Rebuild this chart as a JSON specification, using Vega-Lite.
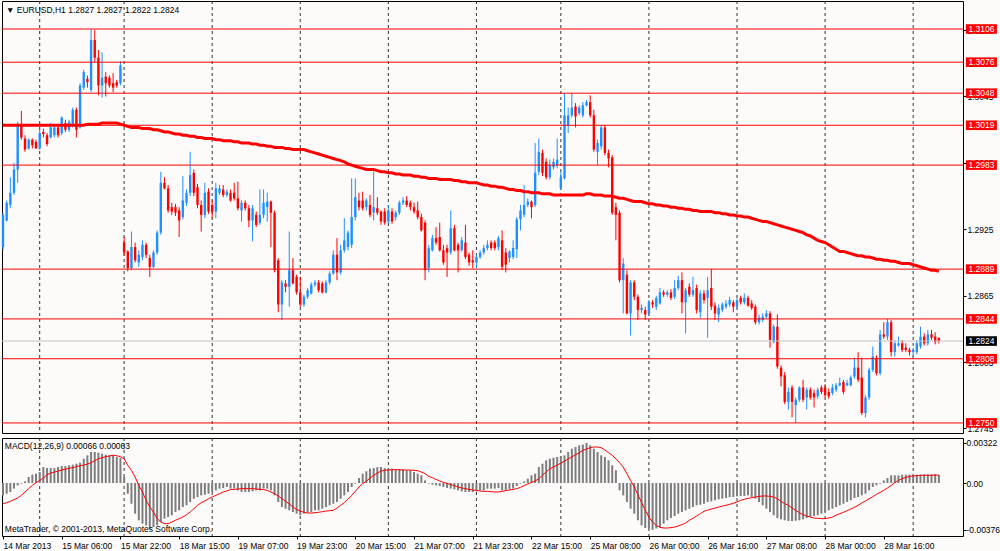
{
  "$schema": "https://vega.github.io/schema/vega-lite/v6.json",
  "background": "#fdfafa",
  "autosize": {"type": "none", "contains": "content"},
  "padding": {"left": 2, "top": 1, "right": 998, "bottom": 550},
  "spacing": 3,
  "config": {
    "view": {"stroke": "#000000", "strokeWidth": 1},
    "scale": {"continuousPadding": 0},
    "axis": {"labelFont": "Liberation Sans", "labelFontSize": 8.5, "labelColor": "#000000", "tickColor": "#000000", "domainColor": "#000000", "grid": false, "title": null},
    "text": {"font": "Liberation Sans", "fontSize": 8.5}
  },
  "datasets": {
    "seps": [{"i": 10}, {"i": 33}, {"i": 57}, {"i": 81}, {"i": 105}, {"i": 129}, {"i": 152}, {"i": 176}, {"i": 200}, {"i": 224}, {"i": 248}],
    "levels": [
      {"price": 1.3106, "kind": "level"}, {"price": 1.3076, "kind": "level"}, {"price": 1.3048, "kind": "level"},
      {"price": 1.3019, "kind": "level"}, {"price": 1.2983, "kind": "level"}, {"price": 1.2889, "kind": "level"},
      {"price": 1.2844, "kind": "level"}, {"price": 1.2808, "kind": "level"}, {"price": 1.2750, "kind": "level"},
      {"price": 1.2824, "kind": "bid"}
    ],
    "bars": [
      {"i":0,"open":1.2909,"high":1.2940,"low":1.2906,"close":1.2938,"ma":1.3019,"macd":-0.00099,"signal":-0.00166},
      {"i":1,"open":1.2933,"high":1.2951,"low":1.2932,"close":1.2949,"ma":1.3019,"macd":-0.00086,"signal":-0.00158},
      {"i":2,"open":1.2947,"high":1.2972,"low":1.2944,"close":1.2958,"ma":1.3019,"macd":-0.00072,"signal":-0.00147},
      {"i":3,"open":1.2958,"high":1.2985,"low":1.2956,"close":1.2979,"ma":1.3019,"macd":-0.00045,"signal":-0.00134},
      {"i":4,"open":1.2979,"high":1.3022,"low":1.2967,"close":1.3019,"ma":1.3019,"macd":-0.00019,"signal":-0.00120},
      {"i":5,"open":1.3019,"high":1.3032,"low":1.3006,"close":1.3008,"ma":1.3019,"macd":-0.00005,"signal":-0.00099},
      {"i":6,"open":1.3007,"high":1.3010,"low":1.2995,"close":1.2997,"ma":1.3019,"macd":0.00013,"signal":-0.00072},
      {"i":7,"open":1.2998,"high":1.3007,"low":1.2997,"close":1.3006,"ma":1.3019,"macd":0.00048,"signal":-0.00045},
      {"i":8,"open":1.3006,"high":1.3007,"low":1.2998,"close":1.3001,"ma":1.3019,"macd":0.00067,"signal":-0.00019},
      {"i":9,"open":1.3004,"high":1.3006,"low":1.2998,"close":1.2998,"ma":1.3019,"macd":0.00075,"signal":0.00003},
      {"i":10,"open":1.2998,"high":1.3015,"low":1.2997,"close":1.3012,"ma":1.3019,"macd":0.00088,"signal":0.00021},
      {"i":11,"open":1.3013,"high":1.3016,"low":1.3008,"close":1.3011,"ma":1.3019,"macd":0.00128,"signal":0.00040},
      {"i":12,"open":1.3010,"high":1.3012,"low":1.3000,"close":1.3002,"ma":1.3019,"macd":0.00120,"signal":0.00067},
      {"i":13,"open":1.3008,"high":1.3021,"low":1.3007,"close":1.3017,"ma":1.3019,"macd":0.00120,"signal":0.00080},
      {"i":14,"open":1.3010,"high":1.3018,"low":1.3008,"close":1.3017,"ma":1.3019,"macd":0.00120,"signal":0.00088},
      {"i":15,"open":1.3017,"high":1.3018,"low":1.3008,"close":1.3010,"ma":1.3019,"macd":0.00128,"signal":0.00096},
      {"i":16,"open":1.3012,"high":1.3027,"low":1.3010,"close":1.3026,"ma":1.3019,"macd":0.00136,"signal":0.00104},
      {"i":17,"open":1.3021,"high":1.3024,"low":1.3013,"close":1.3015,"ma":1.3019,"macd":0.00136,"signal":0.00112},
      {"i":18,"open":1.3015,"high":1.3024,"low":1.3013,"close":1.3022,"ma":1.3019,"macd":0.00142,"signal":0.00118},
      {"i":19,"open":1.3019,"high":1.3035,"low":1.3017,"close":1.3033,"ma":1.3019,"macd":0.00147,"signal":0.00123},
      {"i":20,"open":1.3033,"high":1.3035,"low":1.3008,"close":1.3015,"ma":1.3019,"macd":0.00155,"signal":0.00131},
      {"i":21,"open":1.3017,"high":1.3057,"low":1.3016,"close":1.3055,"ma":1.3019,"macd":0.00163,"signal":0.00139},
      {"i":22,"open":1.3053,"high":1.3069,"low":1.3051,"close":1.3067,"ma":1.3019,"macd":0.00195,"signal":0.00144},
      {"i":23,"open":1.3061,"high":1.3064,"low":1.3053,"close":1.3058,"ma":1.3020,"macd":0.00222,"signal":0.00152},
      {"i":24,"open":1.3051,"high":1.3106,"low":1.3049,"close":1.3096,"ma":1.3020,"macd":0.00249,"signal":0.00163},
      {"i":25,"open":1.3096,"high":1.3105,"low":1.3076,"close":1.3080,"ma":1.3020,"macd":0.00249,"signal":0.00179},
      {"i":26,"open":1.3080,"high":1.3087,"low":1.3046,"close":1.3055,"ma":1.3020,"macd":0.00243,"signal":0.00195},
      {"i":27,"open":1.3055,"high":1.3085,"low":1.3044,"close":1.3062,"ma":1.3021,"macd":0.00235,"signal":0.00203},
      {"i":28,"open":1.3063,"high":1.3067,"low":1.3045,"close":1.3057,"ma":1.3021,"macd":0.00227,"signal":0.00211},
      {"i":29,"open":1.3062,"high":1.3064,"low":1.3053,"close":1.3055,"ma":1.3021,"macd":0.00222,"signal":0.00217},
      {"i":30,"open":1.3057,"high":1.3066,"low":1.3049,"close":1.3053,"ma":1.3021,"macd":0.00217,"signal":0.00222},
      {"i":31,"open":1.3058,"high":1.3060,"low":1.3053,"close":1.3055,"ma":1.3021,"macd":0.00209,"signal":0.00219},
      {"i":32,"open":1.3057,"high":1.3077,"low":1.3055,"close":1.3073,"ma":1.3020,"macd":0.00201,"signal":0.00211},
      {"i":33,"open":1.2913,"high":1.2918,"low":1.2901,"close":1.2904,"ma":1.3019,"macd":0.00048,"signal":0.00195},
      {"i":34,"open":1.2905,"high":1.2906,"low":1.2887,"close":1.2890,"ma":1.3018,"macd":-0.00086,"signal":0.00142},
      {"i":35,"open":1.2890,"high":1.2923,"low":1.2888,"close":1.2909,"ma":1.3017,"macd":-0.00166,"signal":0.00102},
      {"i":36,"open":1.2909,"high":1.2913,"low":1.2895,"close":1.2897,"ma":1.3017,"macd":-0.00246,"signal":0.00048},
      {"i":37,"open":1.2895,"high":1.2906,"low":1.2891,"close":1.2902,"ma":1.3017,"macd":-0.00299,"signal":-0.00019},
      {"i":38,"open":1.2900,"high":1.2915,"low":1.2897,"close":1.2911,"ma":1.3016,"macd":-0.00326,"signal":-0.00072},
      {"i":39,"open":1.2911,"high":1.2913,"low":1.2899,"close":1.2902,"ma":1.3016,"macd":-0.00340,"signal":-0.00139},
      {"i":40,"open":1.2899,"high":1.2902,"low":1.2882,"close":1.2891,"ma":1.3016,"macd":-0.00366,"signal":-0.00193},
      {"i":41,"open":1.2891,"high":1.2906,"low":1.2890,"close":1.2904,"ma":1.3015,"macd":-0.00353,"signal":-0.00233},
      {"i":42,"open":1.2904,"high":1.2924,"low":1.2902,"close":1.2922,"ma":1.3015,"macd":-0.00340,"signal":-0.00286},
      {"i":43,"open":1.2922,"high":1.2977,"low":1.2920,"close":1.2967,"ma":1.3014,"macd":-0.00313,"signal":-0.00313},
      {"i":44,"open":1.2967,"high":1.2972,"low":1.2961,"close":1.2962,"ma":1.3013,"macd":-0.00286,"signal":-0.00326},
      {"i":45,"open":1.2962,"high":1.2965,"low":1.2940,"close":1.2942,"ma":1.3013,"macd":-0.00273,"signal":-0.00326},
      {"i":46,"open":1.2945,"high":1.2949,"low":1.2938,"close":1.2941,"ma":1.3012,"macd":-0.00259,"signal":-0.00313},
      {"i":47,"open":1.2945,"high":1.2948,"low":1.2937,"close":1.2940,"ma":1.3011,"macd":-0.00233,"signal":-0.00299},
      {"i":48,"open":1.2942,"high":1.2945,"low":1.2918,"close":1.2933,"ma":1.3011,"macd":-0.00219,"signal":-0.00286},
      {"i":49,"open":1.2936,"high":1.2973,"low":1.2934,"close":1.2951,"ma":1.3010,"macd":-0.00193,"signal":-0.00273},
      {"i":50,"open":1.2949,"high":1.2961,"low":1.2946,"close":1.2958,"ma":1.3010,"macd":-0.00179,"signal":-0.00254},
      {"i":51,"open":1.2958,"high":1.2995,"low":1.2955,"close":1.2974,"ma":1.3009,"macd":-0.00152,"signal":-0.00233},
      {"i":52,"open":1.2976,"high":1.2979,"low":1.2955,"close":1.2958,"ma":1.3009,"macd":-0.00126,"signal":-0.00206},
      {"i":53,"open":1.2963,"high":1.2966,"low":1.2944,"close":1.2947,"ma":1.3008,"macd":-0.00112,"signal":-0.00179},
      {"i":54,"open":1.2947,"high":1.2951,"low":1.2923,"close":1.2938,"ma":1.3008,"macd":-0.00099,"signal":-0.00158},
      {"i":55,"open":1.2938,"high":1.2967,"low":1.2935,"close":1.2958,"ma":1.3007,"macd":-0.00094,"signal":-0.00144},
      {"i":56,"open":1.2959,"high":1.2962,"low":1.2939,"close":1.2941,"ma":1.3007,"macd":-0.00086,"signal":-0.00126},
      {"i":57,"open":1.2947,"high":1.2951,"low":1.2935,"close":1.2941,"ma":1.3007,"macd":-0.00072,"signal":-0.00112},
      {"i":58,"open":1.2941,"high":1.2967,"low":1.2935,"close":1.2962,"ma":1.3006,"macd":-0.00059,"signal":-0.00099},
      {"i":59,"open":1.2958,"high":1.2965,"low":1.2956,"close":1.2962,"ma":1.3006,"macd":-0.00045,"signal":-0.00086},
      {"i":60,"open":1.2961,"high":1.2965,"low":1.2954,"close":1.2956,"ma":1.3005,"macd":-0.00040,"signal":-0.00072},
      {"i":61,"open":1.2956,"high":1.2961,"low":1.2954,"close":1.2959,"ma":1.3005,"macd":-0.00032,"signal":-0.00064},
      {"i":62,"open":1.2958,"high":1.2961,"low":1.2950,"close":1.2951,"ma":1.3005,"macd":-0.00045,"signal":-0.00053},
      {"i":63,"open":1.2958,"high":1.2967,"low":1.2951,"close":1.2953,"ma":1.3004,"macd":-0.00045,"signal":-0.00051},
      {"i":64,"open":1.2953,"high":1.2968,"low":1.2942,"close":1.2944,"ma":1.3004,"macd":-0.00059,"signal":-0.00048},
      {"i":65,"open":1.2942,"high":1.2951,"low":1.2932,"close":1.2949,"ma":1.3003,"macd":-0.00072,"signal":-0.00045},
      {"i":66,"open":1.2949,"high":1.2951,"low":1.2942,"close":1.2944,"ma":1.3003,"macd":-0.00072,"signal":-0.00045},
      {"i":67,"open":1.2944,"high":1.2947,"low":1.2927,"close":1.2933,"ma":1.3003,"macd":-0.00072,"signal":-0.00045},
      {"i":68,"open":1.2933,"high":1.2947,"low":1.2914,"close":1.2944,"ma":1.3002,"macd":-0.00067,"signal":-0.00045},
      {"i":69,"open":1.2938,"high":1.2941,"low":1.2927,"close":1.2929,"ma":1.3002,"macd":-0.00059,"signal":-0.00048},
      {"i":70,"open":1.2931,"high":1.2961,"low":1.2929,"close":1.2938,"ma":1.3001,"macd":-0.00059,"signal":-0.00051},
      {"i":71,"open":1.2938,"high":1.2961,"low":1.2935,"close":1.2949,"ma":1.3001,"macd":-0.00045,"signal":-0.00053},
      {"i":72,"open":1.2945,"high":1.2958,"low":1.2932,"close":1.2950,"ma":1.3000,"macd":-0.00045,"signal":-0.00059},
      {"i":73,"open":1.2950,"high":1.2951,"low":1.2909,"close":1.2940,"ma":1.3000,"macd":-0.00059,"signal":-0.00072},
      {"i":74,"open":1.2940,"high":1.2942,"low":1.2886,"close":1.2888,"ma":1.2999,"macd":-0.00099,"signal":-0.00086},
      {"i":75,"open":1.2897,"high":1.2899,"low":1.2850,"close":1.2857,"ma":1.2999,"macd":-0.00152,"signal":-0.00104},
      {"i":76,"open":1.2857,"high":1.2879,"low":1.2843,"close":1.2877,"ma":1.2999,"macd":-0.00193,"signal":-0.00126},
      {"i":77,"open":1.2876,"high":1.2879,"low":1.2868,"close":1.2873,"ma":1.2998,"macd":-0.00206,"signal":-0.00147},
      {"i":78,"open":1.2873,"high":1.2923,"low":1.2855,"close":1.2888,"ma":1.2998,"macd":-0.00219,"signal":-0.00168},
      {"i":79,"open":1.2888,"high":1.2899,"low":1.2875,"close":1.2876,"ma":1.2997,"macd":-0.00233,"signal":-0.00193},
      {"i":80,"open":1.2882,"high":1.2884,"low":1.2866,"close":1.2868,"ma":1.2997,"macd":-0.00246,"signal":-0.00211},
      {"i":81,"open":1.2868,"high":1.2882,"low":1.2855,"close":1.2857,"ma":1.2997,"macd":-0.00259,"signal":-0.00225},
      {"i":82,"open":1.2857,"high":1.2866,"low":1.2855,"close":1.2864,"ma":1.2997,"macd":-0.00246,"signal":-0.00235},
      {"i":83,"open":1.2864,"high":1.2872,"low":1.2862,"close":1.2870,"ma":1.2996,"macd":-0.00238,"signal":-0.00241},
      {"i":84,"open":1.2867,"high":1.2877,"low":1.2866,"close":1.2875,"ma":1.2995,"macd":-0.00233,"signal":-0.00241},
      {"i":85,"open":1.2875,"high":1.2879,"low":1.2873,"close":1.2877,"ma":1.2994,"macd":-0.00219,"signal":-0.00238},
      {"i":86,"open":1.2877,"high":1.2879,"low":1.2868,"close":1.2870,"ma":1.2993,"macd":-0.00219,"signal":-0.00235},
      {"i":87,"open":1.2876,"high":1.2878,"low":1.2867,"close":1.2868,"ma":1.2992,"macd":-0.00206,"signal":-0.00230},
      {"i":88,"open":1.2868,"high":1.2879,"low":1.2867,"close":1.2877,"ma":1.2991,"macd":-0.00193,"signal":-0.00225},
      {"i":89,"open":1.2877,"high":1.2887,"low":1.2875,"close":1.2885,"ma":1.2990,"macd":-0.00179,"signal":-0.00222},
      {"i":90,"open":1.2885,"high":1.2906,"low":1.2884,"close":1.2902,"ma":1.2989,"macd":-0.00166,"signal":-0.00219},
      {"i":91,"open":1.2902,"high":1.2917,"low":1.2879,"close":1.2886,"ma":1.2988,"macd":-0.00152,"signal":-0.00201},
      {"i":92,"open":1.2886,"high":1.2911,"low":1.2884,"close":1.2906,"ma":1.2987,"macd":-0.00126,"signal":-0.00179},
      {"i":93,"open":1.2906,"high":1.2935,"low":1.2904,"close":1.2915,"ma":1.2986,"macd":-0.00099,"signal":-0.00158},
      {"i":94,"open":1.2909,"high":1.2924,"low":1.2906,"close":1.2922,"ma":1.2984,"macd":-0.00072,"signal":-0.00131},
      {"i":95,"open":1.2911,"high":1.2971,"low":1.2908,"close":1.2936,"ma":1.2983,"macd":-0.00032,"signal":-0.00099},
      {"i":96,"open":1.2936,"high":1.2971,"low":1.2933,"close":1.2954,"ma":1.2982,"macd":-0.00005,"signal":-0.00067},
      {"i":97,"open":1.2951,"high":1.2958,"low":1.2942,"close":1.2945,"ma":1.2981,"macd":0.00040,"signal":-0.00032},
      {"i":98,"open":1.2951,"high":1.2959,"low":1.2942,"close":1.2944,"ma":1.2980,"macd":0.00075,"signal":-0.00005},
      {"i":99,"open":1.2945,"high":1.2953,"low":1.2942,"close":1.2951,"ma":1.2979,"macd":0.00094,"signal":0.00013},
      {"i":100,"open":1.2947,"high":1.2956,"low":1.2936,"close":1.2938,"ma":1.2979,"macd":0.00115,"signal":0.00040},
      {"i":101,"open":1.2940,"high":1.2977,"low":1.2933,"close":1.2945,"ma":1.2979,"macd":0.00120,"signal":0.00062},
      {"i":102,"open":1.2944,"high":1.2954,"low":1.2938,"close":1.2940,"ma":1.2978,"macd":0.00128,"signal":0.00080},
      {"i":103,"open":1.2941,"high":1.2942,"low":1.2929,"close":1.2932,"ma":1.2977,"macd":0.00128,"signal":0.00096},
      {"i":104,"open":1.2941,"high":1.2944,"low":1.2929,"close":1.2931,"ma":1.2977,"macd":0.00120,"signal":0.00102},
      {"i":105,"open":1.2932,"high":1.2947,"low":1.2930,"close":1.2942,"ma":1.2976,"macd":0.00115,"signal":0.00104},
      {"i":106,"open":1.2941,"high":1.2944,"low":1.2930,"close":1.2932,"ma":1.2976,"macd":0.00115,"signal":0.00107},
      {"i":107,"open":1.2936,"high":1.2942,"low":1.2933,"close":1.2940,"ma":1.2975,"macd":0.00110,"signal":0.00107},
      {"i":108,"open":1.2940,"high":1.2951,"low":1.2938,"close":1.2949,"ma":1.2975,"macd":0.00110,"signal":0.00107},
      {"i":109,"open":1.2949,"high":1.2954,"low":1.2947,"close":1.2951,"ma":1.2974,"macd":0.00110,"signal":0.00104},
      {"i":110,"open":1.2951,"high":1.2955,"low":1.2945,"close":1.2947,"ma":1.2974,"macd":0.00102,"signal":0.00104},
      {"i":111,"open":1.2949,"high":1.2951,"low":1.2942,"close":1.2945,"ma":1.2974,"macd":0.00102,"signal":0.00104},
      {"i":112,"open":1.2945,"high":1.2949,"low":1.2939,"close":1.2941,"ma":1.2973,"macd":0.00088,"signal":0.00102},
      {"i":113,"open":1.2942,"high":1.2950,"low":1.2934,"close":1.2936,"ma":1.2973,"macd":0.00075,"signal":0.00099},
      {"i":114,"open":1.2936,"high":1.2939,"low":1.2923,"close":1.2924,"ma":1.2972,"macd":0.00062,"signal":0.00088},
      {"i":115,"open":1.2931,"high":1.2933,"low":1.2879,"close":1.2888,"ma":1.2972,"macd":0.00021,"signal":0.00075},
      {"i":116,"open":1.2890,"high":1.2911,"low":1.2886,"close":1.2908,"ma":1.2971,"macd":-0.00005,"signal":0.00053},
      {"i":117,"open":1.2906,"high":1.2920,"low":1.2905,"close":1.2917,"ma":1.2971,"macd":-0.00013,"signal":0.00043},
      {"i":118,"open":1.2917,"high":1.2927,"low":1.2911,"close":1.2913,"ma":1.2971,"macd":-0.00019,"signal":0.00029},
      {"i":119,"open":1.2918,"high":1.2931,"low":1.2905,"close":1.2906,"ma":1.2970,"macd":-0.00024,"signal":0.00016},
      {"i":120,"open":1.2906,"high":1.2911,"low":1.2893,"close":1.2895,"ma":1.2970,"macd":-0.00032,"signal":0.00005},
      {"i":121,"open":1.2908,"high":1.2911,"low":1.2882,"close":1.2904,"ma":1.2970,"macd":-0.00040,"signal":-0.00003},
      {"i":122,"open":1.2904,"high":1.2942,"low":1.2902,"close":1.2926,"ma":1.2970,"macd":-0.00045,"signal":-0.00013},
      {"i":123,"open":1.2926,"high":1.2929,"low":1.2905,"close":1.2906,"ma":1.2969,"macd":-0.00051,"signal":-0.00021},
      {"i":124,"open":1.2911,"high":1.2913,"low":1.2886,"close":1.2906,"ma":1.2969,"macd":-0.00059,"signal":-0.00032},
      {"i":125,"open":1.2906,"high":1.2918,"low":1.2905,"close":1.2915,"ma":1.2968,"macd":-0.00067,"signal":-0.00040},
      {"i":126,"open":1.2913,"high":1.2929,"low":1.2898,"close":1.2900,"ma":1.2968,"macd":-0.00072,"signal":-0.00045},
      {"i":127,"open":1.2902,"high":1.2904,"low":1.2892,"close":1.2895,"ma":1.2967,"macd":-0.00072,"signal":-0.00051},
      {"i":128,"open":1.2897,"high":1.2906,"low":1.2890,"close":1.2895,"ma":1.2967,"macd":-0.00072,"signal":-0.00056},
      {"i":129,"open":1.2895,"high":1.2902,"low":1.2890,"close":1.2900,"ma":1.2967,"macd":-0.00067,"signal":-0.00059},
      {"i":130,"open":1.2900,"high":1.2906,"low":1.2898,"close":1.2904,"ma":1.2966,"macd":-0.00059,"signal":-0.00064},
      {"i":131,"open":1.2904,"high":1.2911,"low":1.2902,"close":1.2908,"ma":1.2965,"macd":-0.00059,"signal":-0.00067},
      {"i":132,"open":1.2908,"high":1.2915,"low":1.2906,"close":1.2911,"ma":1.2965,"macd":-0.00045,"signal":-0.00067},
      {"i":133,"open":1.2913,"high":1.2915,"low":1.2906,"close":1.2908,"ma":1.2964,"macd":-0.00045,"signal":-0.00070},
      {"i":134,"open":1.2913,"high":1.2915,"low":1.2906,"close":1.2908,"ma":1.2964,"macd":-0.00045,"signal":-0.00072},
      {"i":135,"open":1.2909,"high":1.2919,"low":1.2906,"close":1.2917,"ma":1.2963,"macd":-0.00040,"signal":-0.00072},
      {"i":136,"open":1.2915,"high":1.2924,"low":1.2888,"close":1.2891,"ma":1.2963,"macd":-0.00059,"signal":-0.00067},
      {"i":137,"open":1.2904,"high":1.2908,"low":1.2886,"close":1.2893,"ma":1.2962,"macd":-0.00059,"signal":-0.00062},
      {"i":138,"open":1.2899,"high":1.2906,"low":1.2895,"close":1.2905,"ma":1.2961,"macd":-0.00051,"signal":-0.00056},
      {"i":139,"open":1.2900,"high":1.2915,"low":1.2898,"close":1.2908,"ma":1.2961,"macd":-0.00045,"signal":-0.00051},
      {"i":140,"open":1.2907,"high":1.2936,"low":1.2899,"close":1.2934,"ma":1.2960,"macd":-0.00024,"signal":-0.00045},
      {"i":141,"open":1.2934,"high":1.2947,"low":1.2924,"close":1.2942,"ma":1.2960,"macd":-0.00005,"signal":-0.00035},
      {"i":142,"open":1.2938,"high":1.2965,"low":1.2936,"close":1.2947,"ma":1.2959,"macd":0.00013,"signal":-0.00021},
      {"i":143,"open":1.2947,"high":1.2953,"low":1.2945,"close":1.2950,"ma":1.2959,"macd":0.00035,"signal":-0.00008},
      {"i":144,"open":1.2950,"high":1.2951,"low":1.2935,"close":1.2945,"ma":1.2958,"macd":0.00062,"signal":0.00005},
      {"i":145,"open":1.2947,"high":1.3003,"low":1.2945,"close":1.2976,"ma":1.2958,"macd":0.00075,"signal":0.00016},
      {"i":146,"open":1.2977,"high":1.3007,"low":1.2974,"close":1.2995,"ma":1.2958,"macd":0.00128,"signal":0.00035},
      {"i":147,"open":1.2994,"high":1.2997,"low":1.2973,"close":1.2976,"ma":1.2957,"macd":0.00155,"signal":0.00062},
      {"i":148,"open":1.2986,"high":1.2989,"low":1.2970,"close":1.2972,"ma":1.2957,"macd":0.00182,"signal":0.00088},
      {"i":149,"open":1.2972,"high":1.2988,"low":1.2970,"close":1.2983,"ma":1.2957,"macd":0.00195,"signal":0.00115},
      {"i":150,"open":1.2981,"high":1.2989,"low":1.2979,"close":1.2986,"ma":1.2956,"macd":0.00203,"signal":0.00128},
      {"i":151,"open":1.2983,"high":1.3007,"low":1.2980,"close":1.2988,"ma":1.2956,"macd":0.00209,"signal":0.00144},
      {"i":152,"open":1.2962,"high":1.2977,"low":1.2961,"close":1.2972,"ma":1.2956,"macd":0.00217,"signal":0.00160},
      {"i":153,"open":1.2971,"high":1.3048,"low":1.2970,"close":1.3028,"ma":1.2956,"macd":0.00222,"signal":0.00176},
      {"i":154,"open":1.3019,"high":1.3035,"low":1.3012,"close":1.3028,"ma":1.2956,"macd":0.00249,"signal":0.00193},
      {"i":155,"open":1.3028,"high":1.3048,"low":1.3026,"close":1.3035,"ma":1.2956,"macd":0.00275,"signal":0.00209},
      {"i":156,"open":1.3036,"high":1.3039,"low":1.3017,"close":1.3027,"ma":1.2956,"macd":0.00289,"signal":0.00227},
      {"i":157,"open":1.3030,"high":1.3037,"low":1.3028,"close":1.3035,"ma":1.2956,"macd":0.00302,"signal":0.00243},
      {"i":158,"open":1.3028,"high":1.3040,"low":1.3026,"close":1.3037,"ma":1.2956,"macd":0.00308,"signal":0.00262},
      {"i":159,"open":1.3037,"high":1.3042,"low":1.3036,"close":1.3040,"ma":1.2957,"macd":0.00322,"signal":0.00273},
      {"i":160,"open":1.3040,"high":1.3046,"low":1.3026,"close":1.3028,"ma":1.2957,"macd":0.00302,"signal":0.00283},
      {"i":161,"open":1.3028,"high":1.3033,"low":1.2995,"close":1.2997,"ma":1.2956,"macd":0.00275,"signal":0.00289},
      {"i":162,"open":1.2995,"high":1.3006,"low":1.2983,"close":1.3003,"ma":1.2956,"macd":0.00249,"signal":0.00289},
      {"i":163,"open":1.3000,"high":1.3019,"low":1.2997,"close":1.3017,"ma":1.2956,"macd":0.00222,"signal":0.00283},
      {"i":164,"open":1.3017,"high":1.3019,"low":1.2992,"close":1.2994,"ma":1.2955,"macd":0.00209,"signal":0.00265},
      {"i":165,"open":1.2994,"high":1.2997,"low":1.2981,"close":1.2989,"ma":1.2955,"macd":0.00182,"signal":0.00243},
      {"i":166,"open":1.2990,"high":1.2992,"low":1.2938,"close":1.2940,"ma":1.2955,"macd":0.00142,"signal":0.00222},
      {"i":167,"open":1.2945,"high":1.2949,"low":1.2915,"close":1.2938,"ma":1.2954,"macd":0.00102,"signal":0.00195},
      {"i":168,"open":1.2940,"high":1.2942,"low":1.2877,"close":1.2879,"ma":1.2953,"macd":-0.00059,"signal":0.00163},
      {"i":169,"open":1.2879,"high":1.2899,"low":1.2849,"close":1.2894,"ma":1.2953,"macd":-0.00099,"signal":0.00128},
      {"i":170,"open":1.2884,"high":1.2888,"low":1.2848,"close":1.2849,"ma":1.2952,"macd":-0.00152,"signal":0.00075},
      {"i":171,"open":1.2849,"high":1.2879,"low":1.2829,"close":1.2877,"ma":1.2951,"macd":-0.00206,"signal":0.00021},
      {"i":172,"open":1.2877,"high":1.2879,"low":1.2861,"close":1.2864,"ma":1.2950,"macd":-0.00246,"signal":-0.00032},
      {"i":173,"open":1.2864,"high":1.2866,"low":1.2843,"close":1.2852,"ma":1.2950,"macd":-0.00299,"signal":-0.00094},
      {"i":174,"open":1.2852,"high":1.2857,"low":1.2849,"close":1.2854,"ma":1.2950,"macd":-0.00340,"signal":-0.00158},
      {"i":175,"open":1.2852,"high":1.2855,"low":1.2843,"close":1.2848,"ma":1.2949,"macd":-0.00361,"signal":-0.00219},
      {"i":176,"open":1.2849,"high":1.2861,"low":1.2847,"close":1.2859,"ma":1.2948,"macd":-0.00370,"signal":-0.00273},
      {"i":177,"open":1.2859,"high":1.2861,"low":1.2854,"close":1.2857,"ma":1.2948,"macd":-0.00376,"signal":-0.00313},
      {"i":178,"open":1.2855,"high":1.2865,"low":1.2852,"close":1.2863,"ma":1.2947,"macd":-0.00365,"signal":-0.00340},
      {"i":179,"open":1.2858,"high":1.2872,"low":1.2857,"close":1.2868,"ma":1.2947,"macd":-0.00353,"signal":-0.00356},
      {"i":180,"open":1.2868,"high":1.2870,"low":1.2864,"close":1.2866,"ma":1.2946,"macd":-0.00326,"signal":-0.00361},
      {"i":181,"open":1.2866,"high":1.2870,"low":1.2864,"close":1.2868,"ma":1.2946,"macd":-0.00299,"signal":-0.00361},
      {"i":182,"open":1.2868,"high":1.2871,"low":1.2861,"close":1.2863,"ma":1.2945,"macd":-0.00281,"signal":-0.00358},
      {"i":183,"open":1.2864,"high":1.2879,"low":1.2862,"close":1.2872,"ma":1.2945,"macd":-0.00265,"signal":-0.00353},
      {"i":184,"open":1.2872,"high":1.2883,"low":1.2870,"close":1.2879,"ma":1.2944,"macd":-0.00246,"signal":-0.00345},
      {"i":185,"open":1.2879,"high":1.2886,"low":1.2849,"close":1.2859,"ma":1.2944,"macd":-0.00233,"signal":-0.00334},
      {"i":186,"open":1.2859,"high":1.2872,"low":1.2831,"close":1.2870,"ma":1.2943,"macd":-0.00219,"signal":-0.00321},
      {"i":187,"open":1.2873,"high":1.2876,"low":1.2864,"close":1.2866,"ma":1.2943,"macd":-0.00206,"signal":-0.00299},
      {"i":188,"open":1.2866,"high":1.2882,"low":1.2864,"close":1.2870,"ma":1.2942,"macd":-0.00193,"signal":-0.00283},
      {"i":189,"open":1.2872,"high":1.2875,"low":1.2849,"close":1.2852,"ma":1.2942,"macd":-0.00179,"signal":-0.00265},
      {"i":190,"open":1.2850,"high":1.2870,"low":1.2845,"close":1.2867,"ma":1.2941,"macd":-0.00174,"signal":-0.00246},
      {"i":191,"open":1.2867,"high":1.2870,"low":1.2858,"close":1.2861,"ma":1.2941,"macd":-0.00166,"signal":-0.00227},
      {"i":192,"open":1.2863,"high":1.2882,"low":1.2827,"close":1.2870,"ma":1.2941,"macd":-0.00152,"signal":-0.00217},
      {"i":193,"open":1.2872,"high":1.2889,"low":1.2852,"close":1.2855,"ma":1.2941,"macd":-0.00147,"signal":-0.00209},
      {"i":194,"open":1.2856,"high":1.2859,"low":1.2843,"close":1.2849,"ma":1.2940,"macd":-0.00139,"signal":-0.00201},
      {"i":195,"open":1.2848,"high":1.2857,"low":1.2841,"close":1.2854,"ma":1.2940,"macd":-0.00131,"signal":-0.00193},
      {"i":196,"open":1.2852,"high":1.2859,"low":1.2850,"close":1.2857,"ma":1.2939,"macd":-0.00126,"signal":-0.00185},
      {"i":197,"open":1.2855,"high":1.2861,"low":1.2853,"close":1.2858,"ma":1.2939,"macd":-0.00120,"signal":-0.00179},
      {"i":198,"open":1.2857,"high":1.2864,"low":1.2855,"close":1.2861,"ma":1.2938,"macd":-0.00112,"signal":-0.00171},
      {"i":199,"open":1.2859,"high":1.2861,"low":1.2850,"close":1.2855,"ma":1.2938,"macd":-0.00112,"signal":-0.00163},
      {"i":200,"open":1.2855,"high":1.2863,"low":1.2853,"close":1.2861,"ma":1.2937,"macd":-0.00107,"signal":-0.00152},
      {"i":201,"open":1.2863,"high":1.2865,"low":1.2857,"close":1.2859,"ma":1.2937,"macd":-0.00104,"signal":-0.00139},
      {"i":202,"open":1.2859,"high":1.2867,"low":1.2857,"close":1.2863,"ma":1.2936,"macd":-0.00104,"signal":-0.00131},
      {"i":203,"open":1.2863,"high":1.2865,"low":1.2855,"close":1.2856,"ma":1.2936,"macd":-0.00099,"signal":-0.00123},
      {"i":204,"open":1.2858,"high":1.2861,"low":1.2852,"close":1.2854,"ma":1.2935,"macd":-0.00112,"signal":-0.00118},
      {"i":205,"open":1.2855,"high":1.2857,"low":1.2839,"close":1.2841,"ma":1.2934,"macd":-0.00126,"signal":-0.00112},
      {"i":206,"open":1.2841,"high":1.2848,"low":1.2839,"close":1.2845,"ma":1.2933,"macd":-0.00152,"signal":-0.00107},
      {"i":207,"open":1.2843,"high":1.2849,"low":1.2841,"close":1.2846,"ma":1.2932,"macd":-0.00179,"signal":-0.00104},
      {"i":208,"open":1.2846,"high":1.2852,"low":1.2844,"close":1.2849,"ma":1.2932,"macd":-0.00206,"signal":-0.00104},
      {"i":209,"open":1.2849,"high":1.2851,"low":1.2818,"close":1.2825,"ma":1.2931,"macd":-0.00233,"signal":-0.00107},
      {"i":210,"open":1.2823,"high":1.2839,"low":1.2822,"close":1.2837,"ma":1.2930,"macd":-0.00259,"signal":-0.00112},
      {"i":211,"open":1.2837,"high":1.2848,"low":1.2799,"close":1.2801,"ma":1.2929,"macd":-0.00281,"signal":-0.00126},
      {"i":212,"open":1.2800,"high":1.2802,"low":1.2783,"close":1.2792,"ma":1.2928,"macd":-0.00291,"signal":-0.00147},
      {"i":213,"open":1.2793,"high":1.2796,"low":1.2767,"close":1.2769,"ma":1.2927,"macd":-0.00299,"signal":-0.00166},
      {"i":214,"open":1.2769,"high":1.2782,"low":1.2762,"close":1.2778,"ma":1.2926,"macd":-0.00305,"signal":-0.00179},
      {"i":215,"open":1.2782,"high":1.2784,"low":1.2755,"close":1.2769,"ma":1.2925,"macd":-0.00305,"signal":-0.00201},
      {"i":216,"open":1.2766,"high":1.2773,"low":1.2750,"close":1.2771,"ma":1.2924,"macd":-0.00302,"signal":-0.00219},
      {"i":217,"open":1.2771,"high":1.2783,"low":1.2769,"close":1.2782,"ma":1.2923,"macd":-0.00299,"signal":-0.00238},
      {"i":218,"open":1.2782,"high":1.2789,"low":1.2769,"close":1.2771,"ma":1.2922,"macd":-0.00291,"signal":-0.00254},
      {"i":219,"open":1.2773,"high":1.2782,"low":1.2762,"close":1.2780,"ma":1.2920,"macd":-0.00281,"signal":-0.00265},
      {"i":220,"open":1.2780,"high":1.2782,"low":1.2771,"close":1.2773,"ma":1.2919,"macd":-0.00273,"signal":-0.00273},
      {"i":221,"open":1.2777,"high":1.2780,"low":1.2764,"close":1.2773,"ma":1.2917,"macd":-0.00265,"signal":-0.00281},
      {"i":222,"open":1.2774,"high":1.2782,"low":1.2772,"close":1.2780,"ma":1.2915,"macd":-0.00259,"signal":-0.00283},
      {"i":223,"open":1.2782,"high":1.2784,"low":1.2776,"close":1.2778,"ma":1.2914,"macd":-0.00246,"signal":-0.00286},
      {"i":224,"open":1.2782,"high":1.2785,"low":1.2773,"close":1.2775,"ma":1.2913,"macd":-0.00233,"signal":-0.00286},
      {"i":225,"open":1.2778,"high":1.2781,"low":1.2772,"close":1.2774,"ma":1.2911,"macd":-0.00219,"signal":-0.00281},
      {"i":226,"open":1.2777,"high":1.2785,"low":1.2775,"close":1.2782,"ma":1.2909,"macd":-0.00206,"signal":-0.00273},
      {"i":227,"open":1.2780,"high":1.2786,"low":1.2778,"close":1.2784,"ma":1.2907,"macd":-0.00193,"signal":-0.00259},
      {"i":228,"open":1.2784,"high":1.2791,"low":1.2783,"close":1.2786,"ma":1.2905,"macd":-0.00179,"signal":-0.00246},
      {"i":229,"open":1.2787,"high":1.2789,"low":1.2776,"close":1.2778,"ma":1.2905,"macd":-0.00166,"signal":-0.00235},
      {"i":230,"open":1.2784,"high":1.2789,"low":1.2783,"close":1.2786,"ma":1.2904,"macd":-0.00152,"signal":-0.00222},
      {"i":231,"open":1.2784,"high":1.2793,"low":1.2783,"close":1.2791,"ma":1.2903,"macd":-0.00139,"signal":-0.00209},
      {"i":232,"open":1.2792,"high":1.2809,"low":1.2790,"close":1.2800,"ma":1.2902,"macd":-0.00120,"signal":-0.00195},
      {"i":233,"open":1.2800,"high":1.2814,"low":1.2787,"close":1.2789,"ma":1.2901,"macd":-0.00112,"signal":-0.00179},
      {"i":234,"open":1.2791,"high":1.2809,"low":1.2757,"close":1.2759,"ma":1.2901,"macd":-0.00099,"signal":-0.00160},
      {"i":235,"open":1.2759,"high":1.2775,"low":1.2755,"close":1.2773,"ma":1.2900,"macd":-0.00086,"signal":-0.00144},
      {"i":236,"open":1.2773,"high":1.2800,"low":1.2771,"close":1.2798,"ma":1.2900,"macd":-0.00059,"signal":-0.00126},
      {"i":237,"open":1.2798,"high":1.2819,"low":1.2796,"close":1.2810,"ma":1.2899,"macd":-0.00032,"signal":-0.00110},
      {"i":238,"open":1.2809,"high":1.2811,"low":1.2793,"close":1.2795,"ma":1.2898,"macd":-0.00019,"signal":-0.00091},
      {"i":239,"open":1.2795,"high":1.2834,"low":1.2793,"close":1.2830,"ma":1.2898,"macd":-0.00005,"signal":-0.00075},
      {"i":240,"open":1.2830,"high":1.2841,"low":1.2826,"close":1.2828,"ma":1.2897,"macd":0.00021,"signal":-0.00059},
      {"i":241,"open":1.2828,"high":1.2844,"low":1.2825,"close":1.2841,"ma":1.2897,"macd":0.00040,"signal":-0.00040},
      {"i":242,"open":1.2841,"high":1.2843,"low":1.2810,"close":1.2814,"ma":1.2896,"macd":0.00062,"signal":-0.00019},
      {"i":243,"open":1.2814,"high":1.2825,"low":1.2810,"close":1.2822,"ma":1.2896,"macd":0.00062,"signal":0.00003},
      {"i":244,"open":1.2820,"high":1.2828,"low":1.2819,"close":1.2822,"ma":1.2895,"macd":0.00062,"signal":0.00021},
      {"i":245,"open":1.2822,"high":1.2825,"low":1.2814,"close":1.2816,"ma":1.2894,"macd":0.00067,"signal":0.00035},
      {"i":246,"open":1.2818,"high":1.2822,"low":1.2814,"close":1.2816,"ma":1.2894,"macd":0.00067,"signal":0.00045},
      {"i":247,"open":1.2816,"high":1.2818,"low":1.2811,"close":1.2814,"ma":1.2894,"macd":0.00067,"signal":0.00053},
      {"i":248,"open":1.2814,"high":1.2818,"low":1.2808,"close":1.2816,"ma":1.2893,"macd":0.00067,"signal":0.00056},
      {"i":249,"open":1.2814,"high":1.2825,"low":1.2812,"close":1.2822,"ma":1.2892,"macd":0.00067,"signal":0.00059},
      {"i":250,"open":1.2819,"high":1.2837,"low":1.2817,"close":1.2828,"ma":1.2891,"macd":0.00067,"signal":0.00062},
      {"i":251,"open":1.2828,"high":1.2831,"low":1.2820,"close":1.2822,"ma":1.2890,"macd":0.00070,"signal":0.00062},
      {"i":252,"open":1.2822,"high":1.2834,"low":1.2820,"close":1.2830,"ma":1.2889,"macd":0.00070,"signal":0.00062},
      {"i":253,"open":1.2830,"high":1.2834,"low":1.2825,"close":1.2827,"ma":1.2888,"macd":0.00070,"signal":0.00062},
      {"i":254,"open":1.2828,"high":1.2832,"low":1.2821,"close":1.2823,"ma":1.2888,"macd":0.00070,"signal":0.00064},
      {"i":255,"open":1.2827,"high":1.2827,"low":1.2822,"close":1.2824,"ma":1.2887,"macd":0.00066,"signal":0.00063}
    ]
  },
  "vconcat": [
    {
      "width": 961,
      "height": 432,
      "layer": [
        {
          "data": {"name": "seps"},
          "mark": {"type": "rule", "color": "#333333", "strokeWidth": 1, "strokeDash": [3, 3]},
          "encoding": {
            "x": {"field": "i", "type": "quantitative", "scale": {"domain": [-0.272, 261.58], "nice": false, "zero": false, "padding": 0}, "axis": null}
          }
        },
        {
          "data": {"name": "bars"},
          "mark": {"type": "rule", "strokeWidth": 1},
          "encoding": {
            "x": {"field": "i", "type": "quantitative", "scale": {"domain": [-0.272, 261.58], "nice": false, "zero": false, "padding": 0}, "axis": null},
            "y": {"field": "low", "type": "quantitative", "scale": {"domain": [1.27409, 1.31313], "nice": false, "zero": false, "padding": 0},
                  "axis": {"orient": "right", "values": [1.2745, 1.2775, 1.2805, 1.2835, 1.2865, 1.2895, 1.2925, 1.2955, 1.2985, 1.3015, 1.3045, 1.3075, 1.3105], "format": ".4f", "tickSize": 3, "labelPadding": 1, "domain": false, "labelFlush": false}},
            "y2": {"field": "high"},
            "color": {"condition": {"test": "datum.close >= datum.open", "value": "#1e90ff"}, "value": "#ff0000"}
          }
        },
        {
          "data": {"name": "bars"},
          "mark": {"type": "bar", "size": 2.4},
          "encoding": {
            "x": {"field": "i", "type": "quantitative", "scale": {"domain": [-0.272, 261.58], "nice": false, "zero": false, "padding": 0}, "axis": null},
            "y": {"field": "open", "type": "quantitative", "scale": {"domain": [1.27409, 1.31313], "nice": false, "zero": false, "padding": 0}},
            "y2": {"field": "close"},
            "color": {"condition": {"test": "datum.close >= datum.open", "value": "#1e90ff"}, "value": "#ff0000"}
          }
        },
        {
          "data": {"name": "levels"},
          "mark": {"type": "rule", "strokeWidth": 1},
          "encoding": {
            "y": {"field": "price", "type": "quantitative", "scale": {"domain": [1.27409, 1.31313], "nice": false, "zero": false, "padding": 0}},
            "color": {"condition": {"test": "datum.kind == 'bid'", "value": "#c4c4c4"}, "value": "#ff0000"}
          }
        },
        {
          "data": {"name": "bars"},
          "mark": {"type": "line", "color": "#ff0000", "strokeWidth": 3},
          "encoding": {
            "x": {"field": "i", "type": "quantitative", "scale": {"domain": [-0.272, 261.58], "nice": false, "zero": false, "padding": 0}, "axis": null},
            "y": {"field": "ma", "type": "quantitative", "scale": {"domain": [1.27409, 1.31313], "nice": false, "zero": false, "padding": 0}}
          }
        },
        {
          "data": {"name": "levels"},
          "mark": {"type": "point", "shape": "M-1,-0.31L1,-0.31L1,0.31L-1,0.31Z", "filled": true, "opacity": 1, "size": 961},
          "encoding": {
            "x": {"datum": 266.6, "type": "quantitative", "scale": {"domain": [-0.272, 261.58], "nice": false, "zero": false, "padding": 0}, "axis": null},
            "y": {"field": "price", "type": "quantitative", "scale": {"domain": [1.27409, 1.31313], "nice": false, "zero": false, "padding": 0}},
            "color": {"condition": {"test": "datum.kind == 'bid'", "value": "#000000"}, "value": "#ff0000"}
          }
        },
        {
          "data": {"name": "levels"},
          "mark": {"type": "text", "color": "#ffffff", "align": "center", "baseline": "middle", "fontSize": 8.5},
          "encoding": {
            "x": {"datum": 266.6, "type": "quantitative", "scale": {"domain": [-0.272, 261.58], "nice": false, "zero": false, "padding": 0}, "axis": null},
            "y": {"field": "price", "type": "quantitative", "scale": {"domain": [1.27409, 1.31313], "nice": false, "zero": false, "padding": 0}},
            "text": {"field": "price", "type": "quantitative", "format": ".4f"}
          }
        },
        {
          "data": {"values": [{"label": "▼ EURUSD,H1  1.2827 1.2827 1.2822 1.2824"}]},
          "mark": {"type": "text", "color": "#000000", "align": "left", "baseline": "middle", "fontSize": 8.5},
          "encoding": {
            "x": {"datum": 0.8, "type": "quantitative", "scale": {"domain": [-0.272, 261.58], "nice": false, "zero": false, "padding": 0}, "axis": null},
            "y": {"datum": 1.3123, "type": "quantitative", "scale": {"domain": [1.27409, 1.31313], "nice": false, "zero": false, "padding": 0}},
            "text": {"field": "label"}
          }
        }
      ]
    },
    {
      "width": 961,
      "height": 98,
      "layer": [
        {
          "data": {"name": "seps"},
          "mark": {"type": "rule", "color": "#333333", "strokeWidth": 1, "strokeDash": [3, 3]},
          "encoding": {
            "x": {"field": "i", "type": "quantitative", "scale": {"domain": [-0.272, 261.58], "nice": false, "zero": false, "padding": 0}}
          }
        },
        {
          "data": {"name": "bars"},
          "mark": {"type": "bar", "size": 2, "color": "#7d7d7d"},
          "encoding": {
            "x": {"field": "i", "type": "quantitative", "scale": {"domain": [-0.272, 261.58], "nice": false, "zero": false, "padding": 0},
                  "axis": {"values": [0, 16, 32, 48, 64, 80, 96, 112, 128, 144, 160, 176, 192, 208, 224, 240],
                           "labelExpr": "['14 Mar 2013','15 Mar 06:00','15 Mar 22:00','18 Mar 15:00','19 Mar 07:00','19 Mar 23:00','20 Mar 15:00','21 Mar 07:00','21 Mar 23:00','22 Mar 15:00','25 Mar 08:00','26 Mar 00:00','26 Mar 16:00','27 Mar 08:00','28 Mar 00:00','28 Mar 16:00'][round(datum.value/16)]",
                           "labelAlign": "left", "labelPadding": 2, "tickSize": 3, "labelFlush": false, "labelOverlap": false, "labelBound": false, "domain": false}},
            "y": {"field": "macd", "type": "quantitative", "scale": {"domain": [-0.00425, 0.00361], "nice": false, "zero": false, "padding": 0},
                  "axis": {"orient": "right", "values": [0.00322, 0, -0.00376], "labelExpr": "datum.value > 0.001 ? '0.00322' : (datum.value < -0.001 ? '-0.00376' : '0.00')", "tickSize": 3, "labelPadding": 0, "domain": false, "labelFlush": false}},
            "y2": {"datum": 0}
          }
        },
        {
          "data": {"name": "bars"},
          "mark": {"type": "line", "color": "#ff0000", "strokeWidth": 1},
          "encoding": {
            "x": {"field": "i", "type": "quantitative", "scale": {"domain": [-0.272, 261.58], "nice": false, "zero": false, "padding": 0}},
            "y": {"field": "signal", "type": "quantitative", "scale": {"domain": [-0.00425, 0.00361], "nice": false, "zero": false, "padding": 0}}
          }
        },
        {
          "data": {"values": [
            {"label": "MACD(12,26,9) 0.00066 0.00063", "pos": 0.00298},
            {"label": "MetaTrader, © 2001-2013, MetaQuotes Software Corp.", "pos": -0.00368}
          ]},
          "mark": {"type": "text", "color": "#000000", "align": "left", "baseline": "middle", "fontSize": 8.5},
          "encoding": {
            "x": {"datum": 0.5, "type": "quantitative", "scale": {"domain": [-0.272, 261.58], "nice": false, "zero": false, "padding": 0}},
            "y": {"field": "pos", "type": "quantitative", "scale": {"domain": [-0.00425, 0.00361], "nice": false, "zero": false, "padding": 0}},
            "text": {"field": "label"}
          }
        }
      ]
    }
  ]
}
